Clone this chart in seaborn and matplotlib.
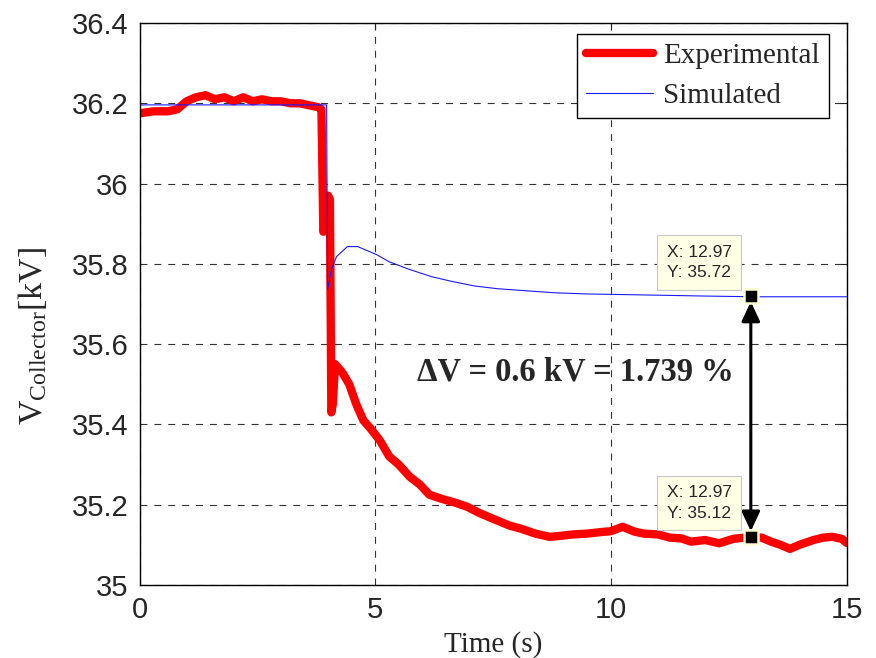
import pandas as pd
import matplotlib
matplotlib.use('Agg')
import matplotlib.pyplot as plt
import seaborn as sns

# Experimental collector voltage
exp_time = [0.0, 0.3, 0.6, 0.8, 1.0, 1.2, 1.4, 1.6, 1.8, 2.0, 2.2, 2.4, 2.6, 2.8,
            3.0, 3.2, 3.4, 3.6, 3.8, 3.86, 3.9, 3.95, 4.0, 4.04, 4.07, 4.1, 4.15,
            4.3, 4.45, 4.6, 4.75, 4.9, 5.1, 5.3, 5.5, 5.73, 5.95, 6.15, 6.4, 6.7,
            6.95, 7.2, 7.5, 7.85, 8.1, 8.4, 8.7, 8.9, 9.2, 9.5, 9.8, 10.0, 10.25,
            10.5, 10.7, 11.0, 11.25, 11.5, 11.7, 12.0, 12.3, 12.6, 12.97, 13.2,
            13.4, 13.6, 13.8, 14.0, 14.3, 14.5, 14.7, 14.9, 15.0]
exp_volt = [36.175, 36.18, 36.18, 36.185, 36.205, 36.215, 36.22, 36.21, 36.215,
            36.205, 36.215, 36.205, 36.21, 36.205, 36.205, 36.2, 36.2, 36.195,
            36.19, 36.185, 35.88, 35.9, 35.97, 35.96, 35.43, 35.45, 35.55, 35.53,
            35.50, 35.45, 35.41, 35.39, 35.36, 35.32, 35.30, 35.27, 35.25, 35.225,
            35.215, 35.205, 35.195, 35.18, 35.165, 35.148, 35.14, 35.128, 35.12,
            35.122, 35.126, 35.128, 35.132, 35.134, 35.145, 35.133, 35.128, 35.126,
            35.118, 35.116, 35.108, 35.112, 35.104, 35.115, 35.12, 35.118, 35.108,
            35.1, 35.09, 35.1, 35.112, 35.118, 35.12, 35.115, 35.105]

# Simulated collector voltage
sim_time = [0.0, 3.97, 3.99, 4.03, 4.07, 4.12, 4.18, 4.41, 4.63, 5.03, 5.3, 5.73,
            6.2, 6.6, 7.1, 7.6, 8.2, 8.8, 9.5, 10.5, 11.9, 13.0, 15.0]
sim_volt = [36.196, 36.196, 35.736, 35.76, 35.786, 35.8, 35.818, 35.843, 35.843,
            35.823, 35.805, 35.786, 35.768, 35.757, 35.745, 35.738, 35.733, 35.728,
            35.725, 35.723, 35.72, 35.718, 35.718]

tip_x = 12.97
tip_sim = 35.72
tip_exp = 35.12

sns.set_style('white')
plt.rcParams['lines.scale_dashes'] = False
plt.rcParams['mathtext.fontset'] = 'custom'
plt.rcParams['mathtext.rm'] = 'Liberation Serif'
plt.rcParams['mathtext.it'] = 'Liberation Serif:italic'

df_exp = pd.DataFrame({'t': exp_time, 'v': exp_volt})
df_sim = pd.DataFrame({'t': sim_time, 'v': sim_volt})

fig = plt.figure(figsize=(8.76, 6.58), dpi=100)
ax = fig.add_axes([139.5 / 876, 1 - 585 / 658, 707 / 876, 562 / 658])

sns.lineplot(data=df_exp, x='t', y='v', ax=ax, color='#ff0000', linewidth=6,
             sort=False, estimator=None, label='Experimental')
sns.lineplot(data=df_sim, x='t', y='v', ax=ax, color='#1a1aff', linewidth=0.8,
             sort=False, estimator=None, label='Simulated')

ax.set_xlim(0, 15)
ax.set_ylim(35, 36.4)
ax.set_xticks([0, 5, 10, 15])
ax.set_yticks([35, 35.2, 35.4, 35.6, 35.8, 36, 36.2, 36.4])
ax.set_yticklabels(['35', '35.2', '35.4', '35.6', '35.8', '36', '36.2', '36.4'])
ax.grid(True, color='#333333', linestyle=(0, (5, 5)), linewidth=0.8)
ax.tick_params(direction='in', length=5, width=0.8, top=True, right=True,
               labelsize=21, pad=8)
for lab in ax.get_xticklabels() + ax.get_yticklabels():
    lab.set_fontfamily('Liberation Sans')
for s in ax.spines.values():
    s.set_color('black')
    s.set_linewidth(1.0)

ax.set_xlabel('Time (s)', fontfamily='Liberation Serif', fontsize=21, labelpad=5)
ax.set_ylabel(r'$\mathrm{V_{Collector}}$[kV]', fontfamily='Liberation Serif',
              fontsize=24.5)
ax.yaxis.set_label_coords(-0.128, 0.443)

leg = ax.legend(loc='upper right', bbox_to_anchor=(0.975, 0.98),
                prop={'family': 'Liberation Serif', 'size': 21},
                frameon=True, fancybox=False, edgecolor='black', framealpha=1,
                borderpad=0.3, handlelength=2.3, labelspacing=0.45,
                borderaxespad=0, handletextpad=0.35)
leg.get_frame().set_linewidth(1.0)

# data tip markers and double arrow
ax.annotate('', xy=(tip_x, tip_sim), xytext=(tip_x, tip_exp),
            arrowprops=dict(arrowstyle='<|-|>,head_length=0.6,head_width=0.28',
                            color='black', lw=2.2, mutation_scale=20,
                            shrinkA=4, shrinkB=4), zorder=5)
ax.plot([tip_x, tip_x], [tip_sim, tip_exp], linestyle='none', marker='s',
        markersize=10, markerfacecolor='black', markeredgecolor='#ffffd0',
        markeredgewidth=1.8, zorder=6)

tip_box = dict(boxstyle='square,pad=0.55', facecolor='#ffffe6', edgecolor='#c8c8c8',
               linewidth=0.8)
for tv in [tip_sim, tip_exp]:
    ax.annotate('X: %.2f\nY: %.2f' % (tip_x, tv), xy=(tip_x, tv),
                xytext=(-19, 16), textcoords='offset pixels', ha='right',
                va='bottom', multialignment='left', fontfamily='Liberation Sans',
                fontsize=12.5, bbox=tip_box, zorder=7, linespacing=1.45)

ax.text(9.24, 35.53, 'ΔV = 0.6 kV = 1.739 %', ha='center', va='center',
        fontfamily='Liberation Serif', fontweight='bold', fontsize=23.5, zorder=7)

fig.savefig('out.png', dpi=100)
